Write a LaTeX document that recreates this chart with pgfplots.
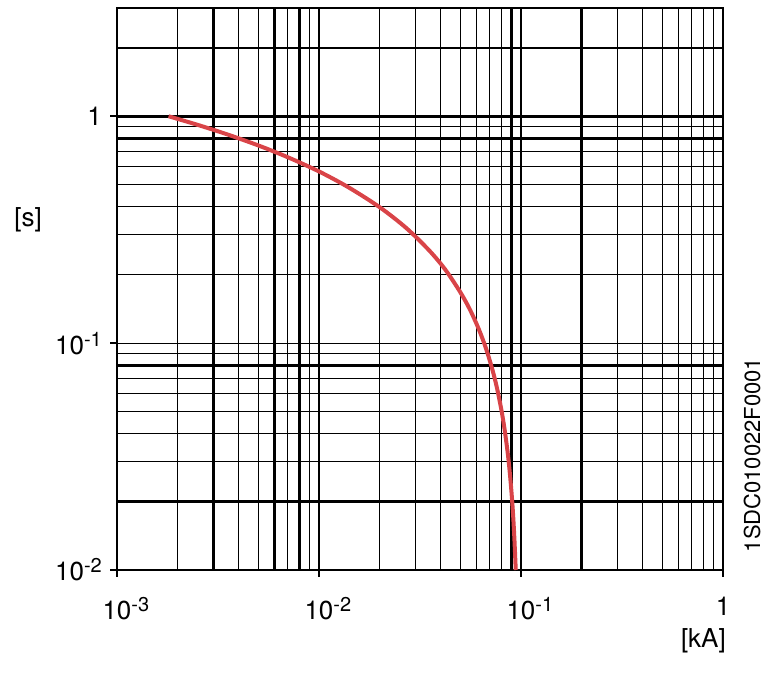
\documentclass[border=0pt]{standalone}
\usepackage{fontspec}
\setmainfont{TeX Gyre Heros}
\usepackage{pgfplots}
\pgfplotsset{compat=1.18}
\definecolor{curvered}{RGB}{217,68,72}
\newcommand{\supx}[1]{\raisebox{8pt}{\fontsize{20}{20}\selectfont -#1}}
\newcommand{\px}[1]{10\rlap{\supx{#1}}}
\newcommand{\py}[1]{10\supx{#1}}
\begin{document}
\begin{tikzpicture}[x=1pt,y=1pt]
\begin{axis}[
  at={(117pt,104pt)}, anchor=south west,
  scale only axis, width=606pt, height=562pt,
  xmode=log, ymode=log,
  xmin=1e-3, xmax=1, ymin=1e-2, ymax=3,
  xtick={0.001,0.01,0.1,1},
  xticklabels={\px{3},\px{2},\px{1},1},
  ytick={0.01,0.1,1},
  yticklabels={\py{2},\py{1},1},
  minor xtick={0.002,0.003,0.004,0.005,0.006,0.007,0.008,0.009,0.02,0.03,0.04,0.05,0.06,0.07,0.08,0.09,0.2,0.3,0.4,0.5,0.6,0.7,0.8,0.9},
  minor ytick={0.02,0.03,0.04,0.05,0.06,0.07,0.08,0.09,0.2,0.3,0.4,0.5,0.6,0.7,0.8,0.9,2},
  grid=both,
  major grid style={black, line width=1.2pt},
  minor grid style={black, line width=1.2pt},
  tick align=outside,
  xtick pos=bottom, ytick pos=left,
  major tick length=7pt, minor tick length=0pt,
  tick style={black, line width=1.5pt},
  axis line style={black, line width=2.6pt},
  ticklabel style={font=\fontsize{26}{30}\selectfont, inner sep=0pt},
  xticklabel style={yshift=-20pt},
  yticklabel style={xshift=-8pt},
  extra x ticks={0.003,0.006,0.008,0.09,0.1,0.2},
  extra x tick labels={},
  extra x tick style={grid=major, major grid style={black, line width=2.8pt}, major tick length=0pt},
  extra y ticks={1,0.8,0.08,0.02},
  extra y tick labels={},
  extra y tick style={grid=major, major grid style={black, line width=2.8pt}, major tick length=0pt},
]
\addplot[curvered, line width=4pt, smooth] coordinates {
(0.0018,1.0)
(0.0025,0.917)
(0.0035,0.833)
(0.005,0.744)
(0.007,0.660)
(0.01,0.571)
(0.014,0.486)
(0.02,0.397)
(0.027,0.322)
(0.035,0.257)
(0.042,0.212)
(0.05,0.168)
(0.056,0.140)
(0.062,0.1145)
(0.067,0.0951)
(0.072,0.0771)
(0.076,0.0636)
(0.080,0.0507)
(0.083,0.0415)
(0.086,0.0327)
(0.088,0.0269)
(0.090,0.0213)
(0.0915,0.0172)
(0.0928,0.0136)
(0.0942,0.0100)
};
\end{axis}
\node[anchor=east, font=\fontsize{26}{30}\selectfont, inner sep=0pt] at (726,33) {[kA]};
\node[font=\fontsize{26}{30}\selectfont, inner sep=0pt] at (28,454) {[s]};
\node[rotate=90, font=\fontsize{22}{26}\selectfont, inner sep=0pt] at (752,219) {1SDC010022F0001};
\pgfresetboundingbox
\useasboundingbox (0,0) rectangle (767,674);
\end{tikzpicture}
\end{document}
